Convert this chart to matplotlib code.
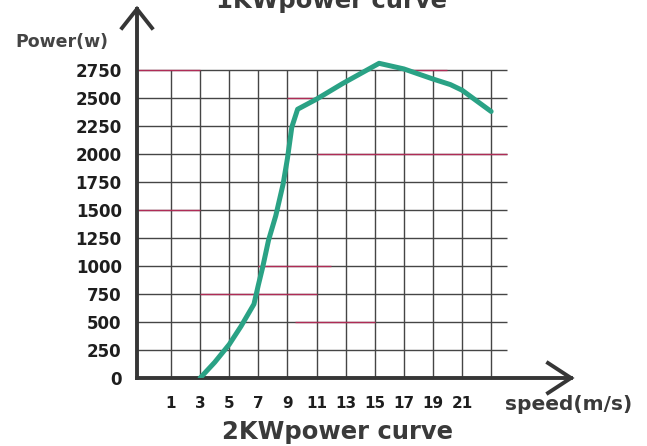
import matplotlib
matplotlib.use("Agg")
import matplotlib.pyplot as plt

# DATA
speed = [3, 4, 5, 5.8, 6.7, 7, 7.3, 7.7, 8.2, 8.7, 9.0, 9.3, 9.7, 11, 12.8, 15.3, 17, 19, 20.2, 21, 23]
power = [0, 140, 300, 460, 660, 830, 990, 1230, 1450, 1730, 1960, 2240, 2400, 2490, 2630, 2810, 2760, 2670, 2620, 2570, 2380]
power_ticks = [0, 250, 500, 750, 1000, 1250, 1500, 1750, 2000, 2250, 2500, 2750]
speed_ticks = [1, 3, 5, 7, 9, 11, 13, 15, 17, 19, 21]
speed_grid = [1, 3, 5, 7, 9, 11, 13, 15, 17, 19, 21, 23]

# reddish tint on parts of the scanned grid lines (power, from, to)
red_bits = [(2750, -1.3, 3), (2750, 17.5, 20), (2500, 9, 11), (2000, 11, 24.1),
            (1500, -1.3, 3), (1000, 7, 12), (750, 3, 11), (500, 9.5, 15)]

W, H = 647, 446
fig = plt.figure(figsize=(W / 100, H / 100), dpi=100)
ax = fig.add_axes([137 / W, (H - 378) / H, (571 - 137) / W, (378 - 9) / H])
ax.set_xlim(-1.34, 28.49)
ax.set_ylim(0, 3295)

gridc = "#454545"
ax.hlines(power_ticks[1:], -1.34, 24.1, color=gridc, lw=1.0, zorder=1)
ax.vlines(speed_grid, 0, power_ticks[-1], color=gridc, lw=1.0, zorder=1)
for p, a, b in red_bits:
    ax.hlines(p, a, b, color="#c2285a", lw=1.0, alpha=0.85, zorder=2)

ax.plot(speed, power, color="#2aa285", lw=3.6, solid_capstyle="round", zorder=4)

# axes with open arrow heads
for s in ["top", "right"]:
    ax.spines[s].set_visible(False)
for s in ["left", "bottom"]:
    ax.spines[s].set_color("#363636")
    ax.spines[s].set_linewidth(2.8)
aw, ah = 434.0, 369.0
ax.plot([-15 / aw, 0, 15 / aw], [1 - 19 / ah, 1, 1 - 19 / ah], transform=ax.transAxes,
        color="#363636", lw=2.8, clip_on=False, solid_joinstyle="miter")
ax.plot([1 - 23 / aw, 1, 1 - 23 / aw], [15 / ah, 0, -15 / ah], transform=ax.transAxes,
        color="#363636", lw=2.8, clip_on=False, solid_joinstyle="miter")

ax.set_yticks(power_ticks)
ax.set_yticklabels([str(v) for v in power_ticks], fontsize=12, fontweight="bold", color="#1e1e1e")
ax.set_xticks(speed_ticks)
ax.set_xticklabels([str(v) for v in speed_ticks], fontsize=11, fontweight="bold", color="#1e1e1e")
ax.tick_params(axis="y", length=0, pad=11)
ax.tick_params(axis="x", length=0, pad=13)

fig.text(15 / W, 1 - 42 / H, "Power(w)", fontsize=12.5, fontweight="bold", color="#444444",
         va="center", ha="left")
fig.text(569 / W, 1 - 405 / H, "speed(m/s)", fontsize=14.5, fontweight="bold", color="#3a3a3a",
         va="center", ha="center")
fig.text(338 / W, 1 - 432 / H, "2KWpower curve", fontsize=17.5, fontweight="bold", color="#3a3a3a",
         va="center", ha="center")
# title of the neighbouring chart, cut off by the top edge as in the scan
fig.text(331 / W, 1 - 8 / H, "1KWpower curve", fontsize=17.5, fontweight="bold", color="#3a3a3a",
         va="baseline", ha="center")

plt.savefig("out.png", dpi=100)
